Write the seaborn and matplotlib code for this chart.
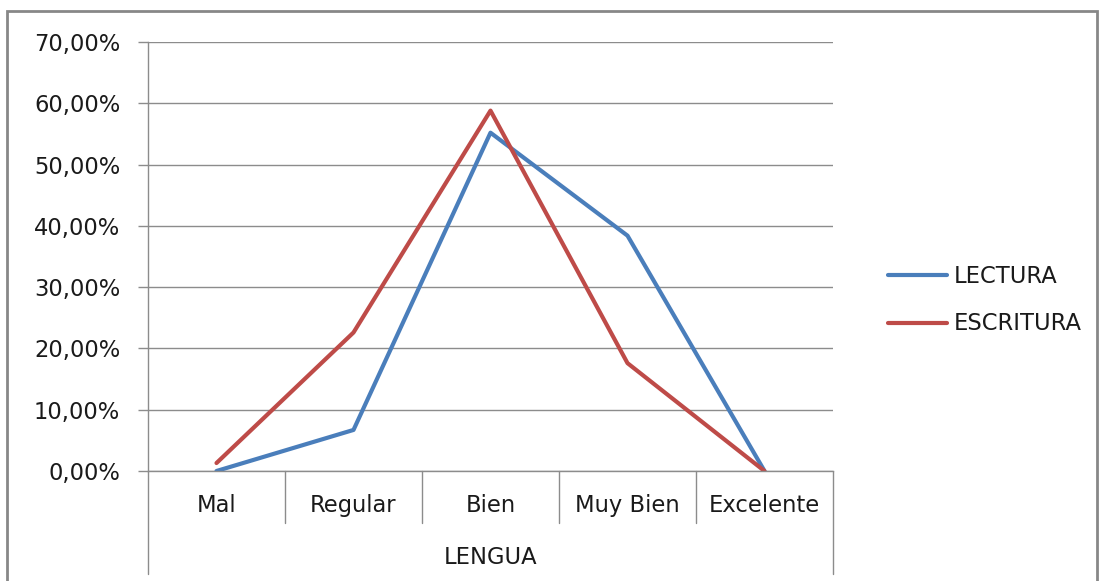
import matplotlib
matplotlib.use("Agg")
import matplotlib.pyplot as plt
import matplotlib.transforms as mtransforms
from matplotlib.patches import Rectangle
from matplotlib.ticker import FuncFormatter
import pandas as pd
import seaborn as sns

CATEGORIES = ["Mal", "Regular", "Bien", "Muy Bien", "Excelente"]
LECTURA = [0.0, 6.7, 55.2, 38.4, 0.0]
ESCRITURA = [1.3, 22.6, 58.8, 17.6, 0.0]
SERIES = ["LECTURA", "ESCRITURA"]
COLORS = ["#4A7EBB", "#BE4B48"]
GROUP_LABEL = "LENGUA"
FS = 16.3

df = pd.DataFrame({
    "cat": CATEGORIES * 2,
    "pos": list(range(len(CATEGORIES))) * 2,
    "valor": LECTURA + ESCRITURA,
    "serie": [SERIES[0]] * len(CATEGORIES) + [SERIES[1]] * len(CATEGORIES),
})

sns.set_style("white")
plt.rcParams["font.family"] = ["DejaVu Sans"]

fig = plt.figure(figsize=(11.05, 5.81), dpi=100)
ax = fig.add_axes([148 / 1105, 1 - 471 / 581, 685 / 1105, 429 / 581])

sns.lineplot(data=df, x="pos", y="valor", hue="serie", hue_order=SERIES,
             palette=COLORS, linewidth=3, ax=ax, legend=True)

ax.set_xlim(-0.5, len(CATEGORIES) - 0.5)
ax.set_ylim(0, 70)
ax.set_yticks(range(0, 71, 10))
ax.yaxis.set_major_formatter(FuncFormatter(lambda v, p: f"{v:.2f}%".replace(".", ",")))
ax.grid(axis="y", color="#8c8c8c", linewidth=1)
ax.set_axisbelow(True)
for s in ["top", "right"]:
    ax.spines[s].set_visible(False)
for s in ["left", "bottom"]:
    ax.spines[s].set_color("#8c8c8c")
    ax.spines[s].set_linewidth(1)
ax.tick_params(axis="y", length=7, width=1, color="#8c8c8c", labelsize=FS, pad=13,
               left=True, labelcolor="#1a1a1a")
ax.set_xticks([])
ax.set_xlabel("")
ax.set_ylabel("")

# category labels and separators (Excel multi-level axis)
trans = mtransforms.blended_transform_factory(ax.transData, ax.transAxes)
for i, c in enumerate(CATEGORIES):
    ax.text(i, -0.08, c, transform=trans, ha="center", va="center", fontsize=FS,
            color="#1a1a1a")
for b in range(1, len(CATEGORIES)):
    ax.plot([b - 0.5, b - 0.5], [0, -0.121], transform=trans, color="#8c8c8c",
            linewidth=1, clip_on=False)
for b in [-0.5, len(CATEGORIES) - 0.5]:
    ax.plot([b, b], [0, -0.24], transform=trans, color="#8c8c8c",
            linewidth=1, clip_on=False)
ax.text((len(CATEGORIES) - 1) / 2, -0.202, GROUP_LABEL, transform=trans, ha="center",
        va="center", fontsize=FS, color="#1a1a1a")

handles, labels = ax.get_legend_handles_labels()
ax.legend_.remove()
fig.legend(handles, labels, loc="center left", bbox_to_anchor=(868 / 1105, 1 - 300 / 581),
           frameon=False, fontsize=FS, handlelength=2.6, handletextpad=0.3,
           labelspacing=1.1, labelcolor="#1a1a1a")

fig.patches.append(Rectangle((7 / 1105, -0.05), 1090 / 1105, 1.05 - 11 / 581,
                             transform=fig.transFigure, fill=False,
                             edgecolor="#878787", linewidth=2))

fig.savefig("out.png", dpi=100)
